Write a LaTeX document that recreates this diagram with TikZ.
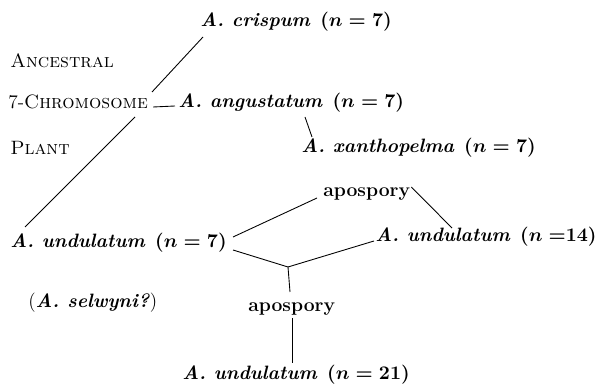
\documentclass[tikz,border=0pt]{standalone}
\usepackage{tikz}
\usetikzlibrary{positioning,calc}
\newcommand{\taxon}[2]{\textbf{\textit{#1}}\enspace{\boldmath$(n=#2)$}}

\begin{document}
\begin{tikzpicture}[x=0.2mm,y=-0.2mm,every node/.style={font=\fontsize{11}{13}\selectfont,inner sep=0pt,anchor=base west},stage/.style={font=\fontsize{11}{13}\selectfont\bfseries},link/.style={line width=0.5pt}]
\useasboundingbox (0,0) rectangle (600,385);
% ancestral plant, left column
\node (ancestral) at (10,68) {\textsc{Ancestral}};
\node (chrom) at (8,109) {7-\textsc{Chromosome}};
\node (plant) at (10,155) {\textsc{Plant}};
% species
\node (crispum) at (200,27) {\taxon{A. crispum}{7}};
\node (angust) at (178,108) {\taxon{A. angustatum}{7}};
\node (xanth) at (301,153) {\taxon{A. xanthopelma}{7}};
\node (und7) at (10,248) {\taxon{A. undulatum}{7}};
\node (und14) at (375,242) {\taxon{A. undulatum}{\mskip-5mu 14}};
\node (und21) at (182,380) {\taxon{A. undulatum}{21}};
\node (selwyni) at (28,308) {(\textbf{\textit{A. selwyni?}})};
\node[stage] (apo1) at (323,197) {apospory};
\node[stage] (apo2) at (248,312) {apospory};
\coordinate (brk1) at (152,92); \coordinate (brk2) at (135,117); \coordinate (jn) at (288,267);
% connectors
\draw[link] ([shift={(3,10)}]crispum.base west) -- (brk1); \draw[link] (brk2) -- ([shift={(15,-21)}]und7.base west);
\draw[link] ([shift={(5,-2)}]chrom.base east) -- ([shift={(-3,-2)}]angust.base west);
\draw[link] ([shift={(127,9)}]angust.base west) -- ([shift={(11,-16)}]xanth.base west);
\draw[link] ([shift={(6,-11)}]und7.base east) -- ([shift={(-6,1)}]apo1.base west);
\draw[link] ([shift={(1,-10)}]apo1.base east) -- ([shift={(77,-14)}]und14.base west);
\draw[link] ([shift={(6,2)}]und7.base east) -- (jn); \draw[link] (jn) -- ([shift={(-1,-1)}]und14.base west);
\draw[link] (jn) -- ([shift={(42,-20)}]apo2.base west);
\draw[link] ([shift={(44,6)}]apo2.base west) -- ([shift={(110,-17)}]und21.base west);
\end{tikzpicture}
\end{document}
